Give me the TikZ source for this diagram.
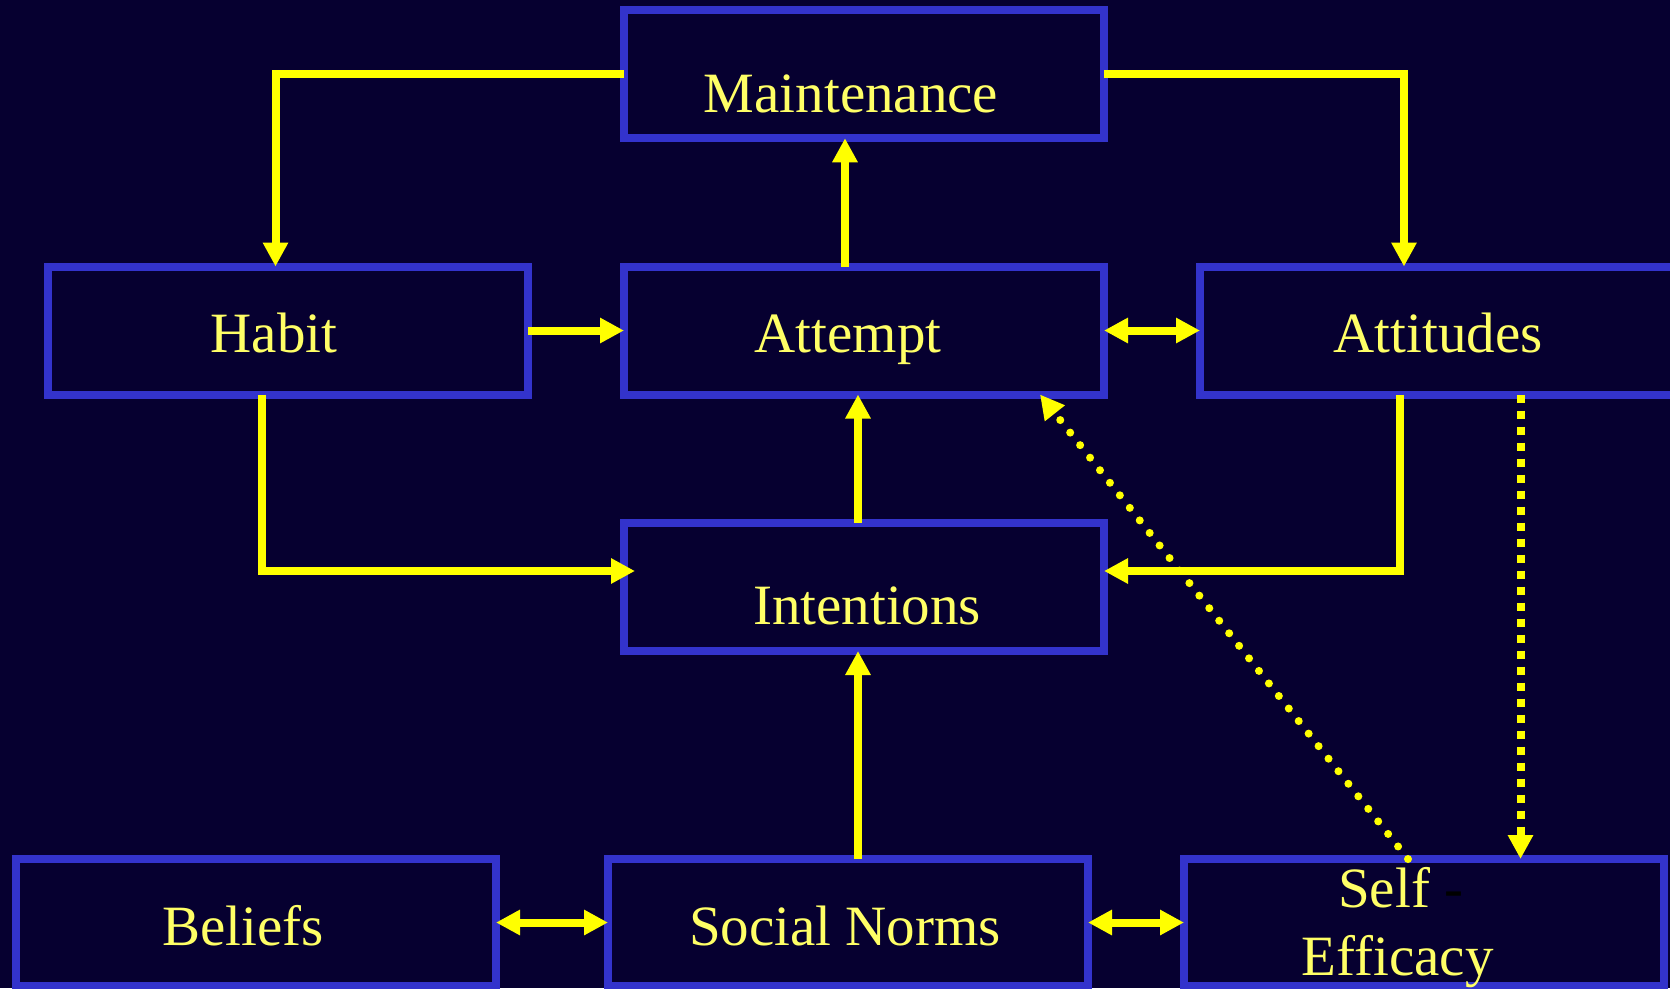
\documentclass[tikz,border=0pt]{standalone}
\usepackage{fontspec}
\setmainfont{Liberation Serif}
\usetikzlibrary{arrows.meta}
\definecolor{bg}{HTML}{060030}
\definecolor{boxblue}{HTML}{3333CC}
\definecolor{txt}{HTML}{FFFF66}
\definecolor{arr}{HTML}{FFFF00}
\tikzset{
  box/.style={rectangle,draw=boxblue,line width=8pt,fill=bg,minimum width=480pt,minimum height=128pt,inner sep=0pt,outer sep=0pt},
  lbl/.style={text=txt,inner sep=0pt,anchor=base,font=\fontsize{57}{64}\selectfont},
  conn/.style={draw=arr,line width=8pt,-{Triangle[length=24pt,width=24pt]}},
  biconn/.style={draw=arr,line width=8pt,{Triangle[length=24pt,width=24pt]}-{Triangle[length=24pt,width=24pt]}},
  sqdots/.style={draw=arr,line width=8pt,dash pattern=on 8pt off 8pt,-{Triangle[length=24pt,width=24pt]}},
  rddots/.style={draw=arr,line width=8pt,line cap=round,dash pattern=on 0pt off 16pt,-{Triangle[length=24pt,width=24pt]}}
}
\begin{document}
\begin{tikzpicture}[x=1pt,y=-1pt]
\fill[bg] (0,0) rectangle (1670,988);
\useasboundingbox (0,0) rectangle (1670,988);
\clip (0,0) rectangle (1670,988);
% boxes
\node[box] (maint) at (864,74.25) {};
\node[box] (habit) at (288,330.5) {};
\node[box] (attempt) at (864,330.5) {};
\node[box,minimum width=490pt] (attitudes) at (1445,330.5) {};
\node[box] (intentions) at (864,587) {};
\node[box,minimum height=127pt] (beliefs) at (256,922.5) {};
\node[box,minimum height=127pt] (social) at (848,922.5) {};
\node[box,minimum height=127pt] (self) at (1424,922.5) {};
% labels
\node[lbl] (tmaint) at (851,112) {Maintenance};
\node[lbl] (thabit) at (274,352.5) {Habit};
\node[lbl] (tattempt) at (848,352.5) {Attempt};
\node[lbl] (tattitudes) at (1438,352.5) {Attitudes};
\node[lbl] (tintentions) at (867,624) {Intentions};
\node[lbl] (tbeliefs) at (243,945) {Beliefs};
\node[lbl] (tsocial) at (845,945) {Social Norms};
\node[lbl,anchor=base west] (tself) at (1338,907) {Self {\color{black}-}};
\node[lbl] (teff) at (1397.5,975) {Efficacy};
% connectors
\draw[conn] (maint.west) -| ([xshift=-12.5pt]habit.north);
\draw[conn] (maint.east) -| ([xshift=-41pt]attitudes.north);
\draw[conn] ([xshift=-19pt]attempt.north) -- ([xshift=-19pt]maint.south);
\draw[conn] (habit.east) -- (attempt.west);
\draw[biconn] (attempt.east) -- (attitudes.west);
\draw[conn] ([xshift=-6pt]intentions.north) -- ([xshift=-6pt]attempt.south);
\draw[conn] ([xshift=-26.5pt]habit.south) |- ([xshift=11pt,yshift=16pt]intentions.west);
\draw[conn] ([xshift=-45.5pt]attitudes.south) |- ([yshift=16pt]intentions.east);
\draw[conn] ([xshift=10pt]social.north) -- ([xshift=-6pt]intentions.south);
\draw[biconn] (beliefs.east) -- (social.west);
\draw[biconn] (social.east) -- (self.west);
\draw[sqdots] ([xshift=75.5pt]attitudes.south) -- ([xshift=96.5pt]self.north);
\draw[rddots] ([xshift=-16pt]self.north) -- ([xshift=176pt]attempt.south);
\end{tikzpicture}
\end{document}
